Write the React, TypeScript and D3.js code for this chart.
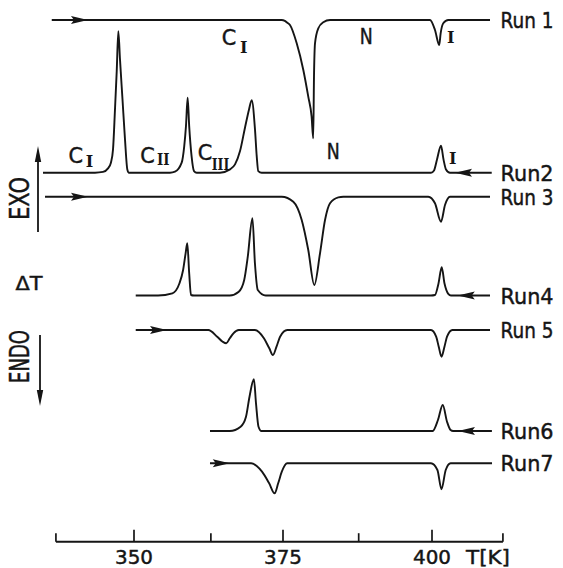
import React from 'react';
import * as d3 from 'd3';

// DSC traces: [T (K), signal offset from the run's baseline]
const run1 = [[336.2, 0], [374.78, 0], [375.3, -0.8], [375.72, -2.7], [376.17, -5], [377.3, -23.3], [378.41, -50], [379.24, -76.7], [379.8, -96.7], [380.07, -118.3], [380.2, -56.7], [380.37, -23.3], [380.92, -8.3], [381.76, -2.3], [382.89, 0], [399.66, 0], [400.5, -10], [401.21, -25], [401.45, -13.3], [401.89, -3.3], [402.73, 0], [409.73, 0]];
const run2 = [[334.73, 0], [343.46, 0], [344.8, 0.8], [345.64, 4.3], [346.14, 10.3], [346.48, 23.3], [346.81, 63.3], [347.1, 101.3], [347.37, 141.6], [347.65, 113.3], [348.07, 73.3], [348.49, 33.3], [348.88, 3.3], [349.16, 0], [356.04, 0], [356.88, 1], [358.0, 10], [358.43, 26.6], [358.72, 46.6], [359.0, 75], [359.26, 46.6], [359.66, 16.6], [360.07, 1.6], [360.52, 0], [364.43, 0], [366.11, 3.3], [366.95, 8.3], [367.79, 21.6], [368.62, 45], [369.3, 63.3], [369.75, 72.6], [370.3, 43.3], [370.59, 16.6], [370.85, 1.6], [371.42, 0], [399.83, 0], [400.34, 2.3], [400.84, 13.3], [401.51, 27], [401.93, 13.3], [402.35, 3.3], [403.02, 0], [410.02, 0]];
const run3 = [[335.07, 0], [374.78, 0], [376.73, -5], [378.14, -23.3], [379.24, -53.3], [380.25, -88.3], [381.21, -56.6], [382.05, -23.3], [382.89, -6.6], [384.28, -0.6], [385.12, 0], [399.38, 0], [400.5, -6.6], [401.51, -25], [402.18, -8.3], [403.02, 0], [409.73, 0]];
const run4 = [[350.29, 0], [354.03, 0], [356.44, 2.2], [357.63, 12.2], [358.24, 25.5], [358.66, 42.2], [358.94, 52.2], [359.26, 22.2], [359.56, 0.5], [360.05, 0], [366.07, 0], [367.58, 3.8], [368.49, 15.5], [369.09, 38.8], [369.87, 77.2], [370.29, 32.2], [370.77, 5.5], [372.1, 0], [399.83, 0], [400.5, 0.5], [401.09, 12], [401.63, 28.3], [402.1, 12], [402.73, 1.7], [403.19, 0], [409.73, 0]];
const run5 = [[350.29, 0], [362.47, 0], [363.96, -6.7], [364.87, -11.7], [365.47, -13.3], [366.07, -8.3], [366.68, -3.3], [367.58, 0], [370.29, 0], [371.8, -8.3], [372.7, -18.3], [373.31, -25], [373.91, -16.7], [374.51, -6.7], [375.72, 0], [399.83, 0], [400.7, -6.7], [401.13, -16.7], [401.59, -26.7], [402.09, -16.7], [402.52, -6.7], [403.42, 0], [409.73, 0]];
const run6 = [[362.75, 0], [366.07, 0], [367.89, 4.3], [368.79, 14.3], [369.38, 34.3], [370.12, 51.7], [370.47, 27.7], [370.89, 4.3], [371.38, 0], [400.12, 0], [401.0, 11], [401.8, 26], [402.52, 9.3], [403.12, 1], [403.54, 0], [410.05, 0]];
const run7 = [[362.75, 0], [369.66, 0], [370.59, -2.7], [371.48, -8.4], [372.68, -20], [373.59, -30], [374.19, -20], [374.8, -8.4], [375.7, 0], [399.83, 0], [400.91, -6.7], [401.59, -26], [402.3, -6.7], [403.12, 0], [410.07, 0]];

const runs = [run1, run2, run3, run4, run5, run6, run7];
const runNames = ['Run 1', 'Run2', 'Run 3', 'Run4', 'Run 5', 'Run6', 'Run7'];
const runLevels = [521.7, 369, 345, 246.2, 211.7, 110.7, 78.4];
const arrowT = [342.28, 403.86, 342.28, 404.33, 355.54, 404.36, 366.07];
const arrowDir = [1, -1, 1, -1, 1, -1, 1];

// phase labels
const annoText = ['C', 'I', 'N', 'I', 'C', 'I', 'C', 'II', 'C', 'III', 'N', 'I'];
const annoT = [365.92, 368.41, 388.98, 403.15, 340.23, 342.53, 352.27, 354.92, 361.91, 364.51, 383.44, 403.49];
const annoLevel = [496.7, 489, 497.4, 498.4, 378.4, 375, 378.4, 376.7, 381.7, 371.7, 382.7, 377.7];
const annoRoman = [false, true, false, true, false, true, false, true, false, true, false, true];

const majorTicks = [350, 375, 400];
const minorTicks = [336.9, 362.9, 387.7, 411.9];

const W = 563;
const H = 568;
const ink = '#151515';
const sans = '"DejaVu Sans", "Liberation Sans", sans-serif';
const serif = '"DejaVu Serif", "Liberation Serif", serif';

const App: React.FC = () => {
  const x = d3.scaleLinear().domain([350, 400]).range([134, 432]);
  const y = d3.scaleLinear().domain([0, 541.7]).range([541.7, 0]);
  const axisY = y(0);

  // text is drawn a touch heavier to match the scanned lettering
  const heavy = { stroke: ink, strokeWidth: 0.45 };

  return (
    <svg width={W} height={H} style={{ position: 'absolute', left: 0, top: 0, background: '#fff' }}>
      <rect width={W} height={H} fill="#fff" />

      {/* traces */}
      {runs.map((pts, i) => {
        const line = d3.line<number[]>()
          .x(d => x(d[0]))
          .y(d => y(d[1] + runLevels[i]))
          .curve(d3.curveMonotoneX);
        const tx = x(arrowT[i]);
        const ty = y(runLevels[i]);
        const dir = arrowDir[i];
        return (
          <g key={runNames[i]}>
            <path d={line(pts) || ''} fill="none" stroke={ink} strokeWidth={1.9} strokeLinejoin="round" />
            <path d={`M${tx},${ty} L${tx - dir * 17},${ty - 4} L${tx - dir * 14},${ty} L${tx - dir * 17},${ty + 4} Z`} fill={ink} />
            <text x={x(411.5)} y={ty + 8} fontFamily={sans} fontSize={21.5} fill={ink} {...heavy}
              textLength={53} lengthAdjust="spacingAndGlyphs">{runNames[i]}</text>
          </g>
        );
      })}

      {/* phase labels */}
      {annoText.map((t, i) => (
        annoRoman[i]
          ? <text key={i} x={x(annoT[i])} y={y(annoLevel[i])} textAnchor="middle" fontFamily={serif}
              fontWeight="bold" fontSize={16} fill={ink} textLength={t.length * 5 + 2.5}
              lengthAdjust="spacingAndGlyphs">{t}</text>
          : <text key={i} x={x(annoT[i])} y={y(annoLevel[i])} textAnchor="middle" fontFamily={sans}
              fontSize={21} fill={ink} {...heavy} textLength={t === 'N' ? 13 : 14.5}
              lengthAdjust="spacingAndGlyphs">{t}</text>
      ))}

      {/* EXO / ENDO indicator */}
      <line x1={38} x2={38} y1={232} y2={158} stroke={ink} strokeWidth={1.8} />
      <path d="M38,146 L34.8,162 L41.2,162 Z" fill={ink} />
      <line x1={40} x2={40} y1={335} y2={394} stroke={ink} strokeWidth={1.8} />
      <path d="M40,406 L36.8,390 L43.2,390 Z" fill={ink} />
      <text transform="translate(29,198.5) rotate(-90)" textAnchor="middle" fontFamily={sans}
        fontSize={26} fill={ink} {...heavy} textLength={43} lengthAdjust="spacingAndGlyphs">EXO</text>
      <text transform="translate(29,356.5) rotate(-90)" textAnchor="middle" fontFamily={sans}
        fontSize={26} fill={ink} {...heavy} textLength={53} lengthAdjust="spacingAndGlyphs">ENDO</text>
      <text x={29} y={290} textAnchor="middle" fontFamily={sans} fontSize={19} fill={ink} {...heavy}
        textLength={27} lengthAdjust="spacingAndGlyphs">ΔT</text>

      {/* temperature axis */}
      <line x1={x(minorTicks[0])} x2={x(minorTicks[minorTicks.length - 1])} y1={axisY} y2={axisY}
        stroke={ink} strokeWidth={1.9} />
      {minorTicks.map(t => (
        <line key={t} x1={x(t)} x2={x(t)} y1={axisY} y2={axisY - 8.5} stroke={ink} strokeWidth={1.7} />
      ))}
      {majorTicks.map(t => (
        <g key={t}>
          <line x1={x(t)} x2={x(t)} y1={axisY} y2={axisY - 12} stroke={ink} strokeWidth={1.7} />
          <text x={x(t)} y={564} textAnchor="middle" fontFamily={sans} fontSize={20} fill={ink} {...heavy}
            textLength={38} lengthAdjust="spacingAndGlyphs">{t}</text>
        </g>
      ))}
      <text x={466} y={564} fontFamily={sans} fontSize={20} fill={ink} {...heavy}
        textLength={44} lengthAdjust="spacingAndGlyphs">T[K]</text>
    </svg>
  );
};

export default App;
